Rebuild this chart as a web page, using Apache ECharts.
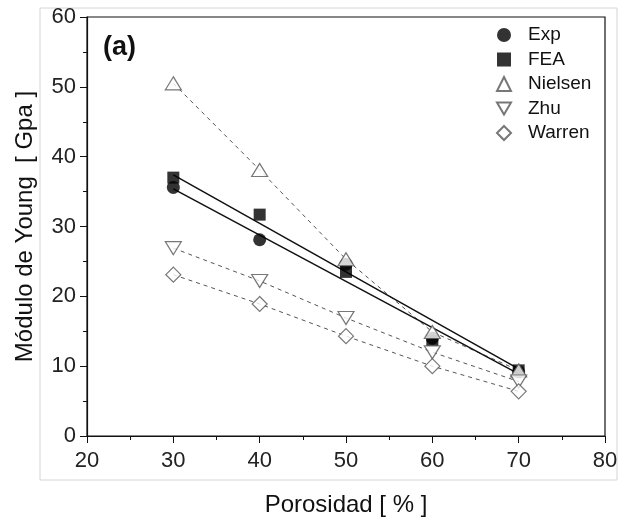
<!DOCTYPE html>
<html>
<head>
<meta charset="utf-8">
<script src="https://cdn.jsdelivr.net/npm/echarts@6/dist/echarts.min.js"></script>
<style>
    html, body {margin: 0; padding: 0; background: #fff;}
    #chart {width: 619px; height: 522px;}
</style>
</head>
<body>
<div id="chart"></div>
<script>
const porosidad = [30, 40, 50, 60, 70];
const exp = [35.6, 28.1, 24.6, 14.0, 9.2];
const fea = [37.0, 31.7, 23.5, 13.6, 9.4];
const nielsen = [50.5, 38.1, 25.3, 14.9, 9.4];
const zhu = [26.9, 22.2, 16.9, 12.0, 7.8];
const warren = [23.1, 18.9, 14.3, 10.0, 6.4];
// ajustes lineales (extremos)
const fitX = [30, 70];
const expFit = [35.4, 8.9];
const feaFit = [37.4, 9.6];

const pairs = (xs, ys) => xs.map((x, i) => [x, ys[i]]);

var myChart = echarts.init(document.getElementById('chart'));

const openStyle = {color: '#fff', borderColor: '#555', borderWidth: 1.2};
const dashed = {color: '#555', width: 1, type: [4, 4]};

var option = {
    animation: false,
    backgroundColor: '#fff',
    textStyle: {fontFamily: 'Liberation Sans, Arial, sans-serif'},
    graphic: [
        {
            type: 'rect', z: -1,
            shape: {x: 40, y: 8, width: 577, height: 472},
            style: {fill: 'none', stroke: '#d4d4d4', lineWidth: 1}
        },
        {
            type: 'text', left: 103, top: 34,
            style: {text: '(a)', font: 'bold 27px Liberation Sans, Arial', fill: '#111'}
        }
    ],
    grid: {
        left: 87, right: 14, top: 17, bottom: 86,
        outerBoundsMode: 'none', containLabel: false,
        show: true, borderColor: '#111', borderWidth: 1.2
    },
    legend: {
        data: [
            'Exp', 'FEA', 'Nielsen',
            {name: 'Zhu', icon: 'path://M0,0L20,0L10,17Z'},
            'Warren'
        ],
        orient: 'vertical',
        left: 491, top: 20,
        itemWidth: 14, itemHeight: 14, itemGap: 4.5,
        textStyle: {fontSize: 19, color: '#111', lineHeight: 20, padding: [0, 0, 0, 12]}
    },
    xAxis: {
        type: 'value', min: 20, max: 80, interval: 10,
        name: 'Porosidad [ % ]', nameLocation: 'middle', nameGap: 57,
        nameTextStyle: {fontSize: 24, color: '#111'},
        axisLine: {lineStyle: {color: '#111', width: 1.2}},
        axisTick: {length: 7, lineStyle: {color: '#111'}},
        minorTick: {show: true, splitNumber: 2, length: 4, lineStyle: {color: '#111'}},
        axisLabel: {fontSize: 22, color: '#222', margin: 14},
        splitLine: {show: false}
    },
    yAxis: {
        type: 'value', min: 0, max: 60, interval: 10,
        name: 'Módulo de Young  [ Gpa ]', nameLocation: 'middle', nameGap: 50,
        nameTextStyle: {fontSize: 24, color: '#111'},
        axisLine: {show: true, lineStyle: {color: '#111', width: 1.2}},
        axisTick: {show: true, length: 7, lineStyle: {color: '#111'}},
        minorTick: {show: true, splitNumber: 2, length: 4, lineStyle: {color: '#111'}},
        axisLabel: {fontSize: 22, color: '#222', margin: 11},
        splitLine: {show: false}
    },
    series: [
        {name: 'nielsenLine', type: 'line', data: pairs(porosidad, nielsen), symbol: 'none', lineStyle: dashed, silent: true},
        {name: 'zhuLine', type: 'line', data: pairs(porosidad, zhu), symbol: 'none', lineStyle: dashed, silent: true},
        {name: 'warrenLine', type: 'line', data: pairs(porosidad, warren), symbol: 'none', lineStyle: dashed, silent: true},
        {name: 'expFit', type: 'line', data: pairs(fitX, expFit), symbol: 'none', lineStyle: {color: '#111', width: 1.5}, silent: true},
        {name: 'feaFit', type: 'line', data: pairs(fitX, feaFit), symbol: 'none', lineStyle: {color: '#111', width: 1.5}, silent: true},
        {name: 'Exp', type: 'scatter', data: pairs(porosidad, exp), symbol: 'circle', symbolSize: 13, itemStyle: {color: '#000'}, z: 3},
        {name: 'FEA', type: 'scatter', data: pairs(porosidad, fea), symbol: 'rect', symbolSize: 12, itemStyle: {color: '#000'}, z: 3},
        {name: 'Nielsen', type: 'scatter', data: pairs(porosidad, nielsen), symbol: 'triangle', symbolSize: [16, 13], itemStyle: openStyle, z: 3},
        {name: 'Zhu', type: 'scatter', data: pairs(porosidad, zhu), symbol: 'triangle', symbolRotate: 180, symbolSize: [16, 13], itemStyle: openStyle, z: 3},
        {name: 'Warren', type: 'scatter', data: pairs(porosidad, warren), symbol: 'diamond', symbolSize: 15, itemStyle: openStyle, z: 3}
    ]
};

myChart.setOption(option);
</script>
</body>
</html>
